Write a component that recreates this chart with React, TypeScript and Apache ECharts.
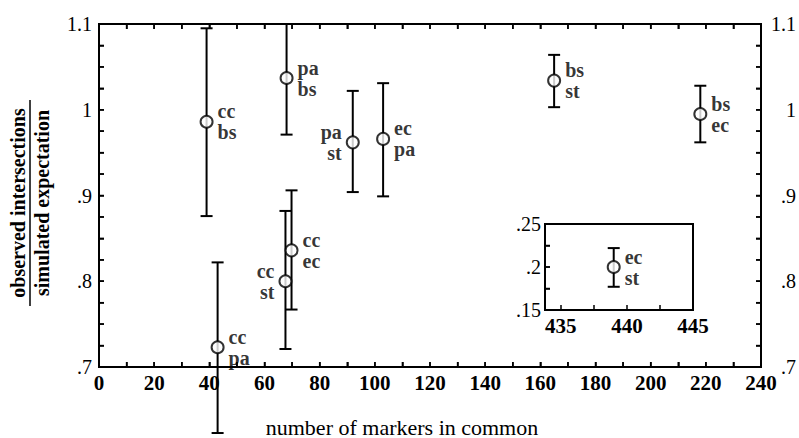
import React, { useEffect, useRef } from "react";
import * as echarts from "echarts";

const pairLabels = ["cc\nbs", "pa\nbs", "cc\npa", "cc\nst", "cc\nec", "pa\nst", "ec\npa", "bs\nst", "bs\nec"];
const markersInCommon = [39, 68, 43, 67.6, 69.8, 92, 103, 165, 218];
const ratioValues = [0.986, 1.037, 0.723, 0.8, 0.836, 0.962, 0.966, 1.034, 0.995];
const ratioLow = [0.876, 0.971, 0.623, 0.721, 0.767, 0.904, 0.899, 1.003, 0.962];
const ratioHigh = [1.095, 1.1, 0.822, 0.882, 0.906, 1.022, 1.031, 1.064, 1.028];
const labelSides = ["right", "right", "right", "left", "right", "left", "right", "right", "right"];

const insetLabels = ["ec\nst"];
const insetMarkers = [439];
const insetValues = [0.2];
const insetLow = [0.177];
const insetHigh = [0.222];

const mainXLabelValues = [0, 20, 40, 60, 80, 100, 120, 140, 160, 180, 200, 220, 240];
const mainXTickValues = [0, 10, 20, 30, 40, 50, 60, 70, 80, 90, 100, 110, 120, 130, 140, 150, 160, 170, 180, 190, 200, 210, 220, 230, 240];
const mainYLabelValues = [0.7, 0.8, 0.9, 1.0, 1.1];
const mainYTickValues = [0.7, 0.725, 0.75, 0.775, 0.8, 0.825, 0.85, 0.875, 0.9, 0.925, 0.95, 0.975, 1.0, 1.025, 1.05, 1.075, 1.1];
const insetXLabelValues = [435, 440, 445];
const insetXTickValues = [435, 437.5, 440, 442.5, 445];
const insetYLabelValues = [0.15, 0.2, 0.25];
const insetYTickValues = [0.15, 0.175, 0.2, 0.225, 0.25];

const FONT = "Liberation Serif";
const TICK_LEN = 5;

const fmtY = (v: number) => {
  const r = Math.round(v * 100) / 100;
  if (Math.abs(r - 1) < 1e-9) return "1";
  let s = String(r);
  if (s.startsWith("0.")) s = s.slice(1);
  return s;
};

function errorBarRender(params: any, api: any) {
  const x = api.value(0);
  const lo = api.coord([x, api.value(1)]);
  const hi = api.coord([x, api.value(2)]);
  const hw = 6;
  const style = { stroke: "#000", lineWidth: 2 };
  return {
    type: "group",
    children: [
      { type: "line", shape: { x1: lo[0], y1: lo[1], x2: hi[0], y2: hi[1] }, style },
      { type: "line", shape: { x1: lo[0] - hw, y1: lo[1], x2: lo[0] + hw, y2: lo[1] }, style },
      { type: "line", shape: { x1: hi[0] - hw, y1: hi[1], x2: hi[0] + hw, y2: hi[1] }, style },
    ],
  };
}

const tickStyle = { stroke: "#000", lineWidth: 1.5 };

// x ticks on bottom and top edges of the grid, positioned by the x scale
function xTickRender(bothSides: boolean) {
  return (params: any, api: any) => {
    const cs = params.coordSys;
    const p = api.coord([api.value(0), api.value(1)]);
    const bottom = cs.y + cs.height;
    const top = cs.y;
    const children: any[] = [
      { type: "line", shape: { x1: p[0], y1: bottom, x2: p[0], y2: bottom - TICK_LEN }, style: tickStyle },
    ];
    if (bothSides) {
      children.push({ type: "line", shape: { x1: p[0], y1: top, x2: p[0], y2: top + TICK_LEN }, style: tickStyle });
    }
    return { type: "group", children };
  };
}

// y ticks on left (and right) edges of the grid, positioned by the y scale
function yTickRender(bothSides: boolean) {
  return (params: any, api: any) => {
    const cs = params.coordSys;
    const p = api.coord([api.value(0), api.value(1)]);
    const left = cs.x;
    const right = cs.x + cs.width;
    const children: any[] = [
      { type: "line", shape: { x1: left, y1: p[1], x2: left + TICK_LEN, y2: p[1] }, style: tickStyle },
    ];
    if (bothSides) {
      children.push({ type: "line", shape: { x1: right, y1: p[1], x2: right - TICK_LEN, y2: p[1] }, style: tickStyle });
    }
    return { type: "group", children };
  };
}

export default function App() {
  const ref = useRef<HTMLDivElement>(null);
  useEffect(() => {
    if (!ref.current) return;
    const chart = echarts.init(ref.current, null, { renderer: "svg" });

    const axisLine = () => ({ show: true, onZero: false, lineStyle: { color: "#000", width: 2 } });
    const ticks = (values: number[]) => ({
      show: true, inside: true, length: TICK_LEN, customValues: values,
      lineStyle: { color: "#000", width: 1.5 },
    });
    const labelStyle = { color: "#000", fontFamily: FONT, fontSize: 21, fontWeight: "bold" as const };
    const yLabelStyle = { color: "#000", fontFamily: FONT, fontSize: 20 };

    const pointLabel = (text: string, side: string) => ({
      show: true,
      position: side,
      distance: 4,
      formatter: text,
      color: "#000",
      fontFamily: FONT,
      fontSize: 20,
      fontWeight: "bold",
      lineHeight: 21,
    });

    const mainPoints = markersInCommon.map((x, i) => ({
      value: [x, ratioValues[i]],
      label: pointLabel(pairLabels[i], labelSides[i]),
    }));
    const mainBars = markersInCommon.map((x, i) => [x, ratioLow[i], ratioHigh[i]]);
    const insetPoints = insetMarkers.map((x, i) => ({
      value: [x, insetValues[i]],
      label: pointLabel(insetLabels[i], "right"),
    }));
    const insetBars = insetMarkers.map((x, i) => [x, insetLow[i], insetHigh[i]]);

    const symbolStyle = { color: "#fff", borderColor: "#000", borderWidth: 2 };

    chart.setOption({
      animation: false,
      backgroundColor: "#fff",
      textStyle: { fontFamily: FONT, color: "#000" },
      grid: [
        {
          left: 99, right: 37, top: 24, bottom: 71, containLabel: false, show: true,
          borderColor: "#000", borderWidth: 2, backgroundColor: "transparent",
        },
        {
          left: 545, top: 224, width: 148, height: 86, show: true,
          borderColor: "#000", borderWidth: 2, backgroundColor: "#fff", z: 5,
        },
      ],
      xAxis: [
        {
          gridIndex: 0, type: "value", min: 0, max: 240, position: "bottom", z: 10,
          axisLine: axisLine(), splitLine: { show: false },
          axisTick: ticks(mainXTickValues),
          axisLabel: { ...labelStyle, margin: 5, customValues: mainXLabelValues },
        },
        {
          gridIndex: 0, type: "value", min: 0, max: 240, position: "top", z: 10,
          axisLine: axisLine(), splitLine: { show: false },
          axisTick: ticks(mainXTickValues),
          axisLabel: { show: false },
        },
        {
          gridIndex: 1, type: "value", min: 433.8, max: 445, position: "bottom", z: 10,
          axisLine: axisLine(), splitLine: { show: false },
          axisTick: ticks(insetXTickValues),
          axisLabel: { ...labelStyle, margin: 5, customValues: insetXLabelValues, formatter: (v: number) => String(v) },
        },
      ],
      yAxis: [
        {
          gridIndex: 0, type: "value", min: 0.7, max: 1.1, position: "left", z: 10,
          axisLine: axisLine(), splitLine: { show: false },
          axisTick: ticks(mainYTickValues),
          axisLabel: { ...yLabelStyle, margin: 7, customValues: mainYLabelValues, formatter: fmtY },
        },
        {
          gridIndex: 0, type: "value", min: 0.7, max: 1.1, position: "right", z: 10,
          axisLine: axisLine(), splitLine: { show: false },
          axisTick: ticks(mainYTickValues),
          axisLabel: { ...yLabelStyle, margin: 35, align: "right", customValues: mainYLabelValues, formatter: fmtY },
        },
        {
          gridIndex: 1, type: "value", min: 0.15, max: 0.25, position: "left", z: 10,
          axisLine: axisLine(), splitLine: { show: false },
          axisTick: ticks(insetYTickValues),
          axisLabel: { ...yLabelStyle, margin: 4, customValues: insetYLabelValues, formatter: fmtY },
        },
      ],
      series: [
        {
          type: "custom", xAxisIndex: 0, yAxisIndex: 0, renderItem: xTickRender(true),
          data: mainXTickValues.map((v) => [v, 0.9]), encode: { x: 0, y: 1 }, z: 9, clip: false, silent: true,
        },
        {
          type: "custom", xAxisIndex: 0, yAxisIndex: 0, renderItem: yTickRender(true),
          data: mainYTickValues.map((v) => [120, v]), encode: { x: 0, y: 1 }, z: 9, clip: false, silent: true,
        },
        {
          type: "custom", xAxisIndex: 2, yAxisIndex: 2, renderItem: yTickRender(false),
          data: insetYTickValues.map((v) => [440, v]), encode: { x: 0, y: 1 }, z: 9, clip: false, silent: true,
        },
        {
          type: "custom", xAxisIndex: 0, yAxisIndex: 0, renderItem: errorBarRender,
          data: mainBars, encode: { x: 0, y: [1, 2] }, z: 2, clip: false,
        },
        {
          type: "scatter", xAxisIndex: 0, yAxisIndex: 0, symbol: "circle", symbolSize: 12,
          itemStyle: symbolStyle, data: mainPoints, z: 3,
        },
        {
          type: "custom", xAxisIndex: 2, yAxisIndex: 2, renderItem: errorBarRender,
          data: insetBars, encode: { x: 0, y: [1, 2] }, z: 6, clip: false,
        },
        {
          type: "scatter", xAxisIndex: 2, yAxisIndex: 2, symbol: "circle", symbolSize: 12,
          itemStyle: symbolStyle, data: insetPoints, z: 7,
        },
      ],
      graphic: [
        {
          type: "text", x: 18, y: 203, rotation: Math.PI / 2,
          style: { text: "observed intersections", font: `bold 20px ${FONT}`, fill: "#000", align: "center", verticalAlign: "middle" },
        },
        {
          type: "line", shape: { x1: 30, y1: 100, x2: 30, y2: 306 },
          style: { stroke: "#000", lineWidth: 1.5 },
        },
        {
          type: "text", x: 42, y: 203, rotation: Math.PI / 2,
          style: { text: "simulated expectation", font: `bold 20px ${FONT}`, fill: "#000", align: "center", verticalAlign: "middle" },
        },
        {
          type: "text", x: 402, y: 427,
          style: { text: "number of markers in common", font: `22px ${FONT}`, fill: "#000", align: "center", verticalAlign: "middle" },
        },
      ],
    });
    return () => chart.dispose();
  }, []);
  return <div ref={ref} style={{ position: "absolute", left: 0, top: 0, width: 799, height: 438 }} />;
}
